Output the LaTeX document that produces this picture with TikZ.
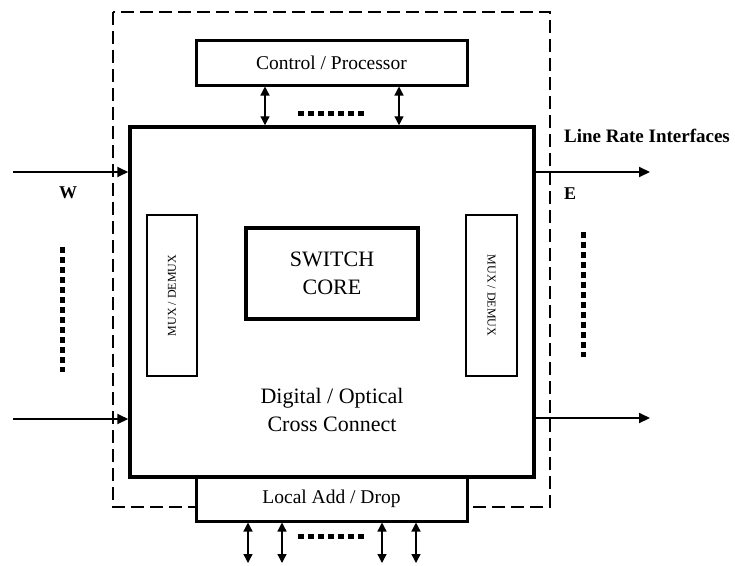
\documentclass[tikz,border=0pt]{standalone}
\usepackage{fontspec}
\setmainfont{Liberation Serif}
\usetikzlibrary{arrows.meta}

\begin{document}
\begin{tikzpicture}[x=1pt,y=-1pt,
  unit/.style={draw,fill=white,inner sep=0pt,align=center},
  line/.style={line width=2pt,-{Triangle[length=11pt,width=10pt]}},
  dblline/.style={line width=1.3pt,{Triangle[length=9pt,width=9pt]}-{Triangle[length=9pt,width=9pt]}},
  dots/.style={line width=5pt,dash pattern=on 6pt off 4pt},
  txt/.style={font=\fontsize{19.5}{24}\selectfont},
  bigtxt/.style={font=\fontsize{22}{28}\selectfont,align=center},
  muxtxt/.style={font=\fontsize{12}{14}\selectfont},
  side/.style={font=\fontsize{18}{22}\selectfont\bfseries}]

  \useasboundingbox (0,0) rectangle (735,565);

  % Outline
  \draw [line width=1.8pt,dash pattern=on 13pt off 6pt] (113,12) rectangle (550,507);

  % Boxes
  \node [unit,line width=3.5pt,minimum width=404pt,minimum height=350pt] (xc) at (332,302) {};
  \node [unit,line width=4pt,minimum width=172pt,minimum height=91pt,bigtxt] (core) at (332,273.5) {SWITCH\\CORE};
  \node [unit,line width=2pt,minimum width=50pt,minimum height=161pt] (muxw) at (172,295.5) {};
  \node [unit,line width=2pt,minimum width=51pt,minimum height=161pt] (muxe) at (491.5,295.5) {};
  \node [muxtxt,rotate=90] (muxwtext) at (muxw) {MUX / DEMUX};
  \node [muxtxt,rotate=-90] (muxetext) at (muxe) {MUX / DEMUX};
  \node [bigtxt] (xctext) at (332,410) {Digital / Optical\\Cross Connect};
  \node [unit,line width=3pt,minimum width=271pt,minimum height=45pt,txt] (ctrl) at (331.5,62.5) {Control / Processor};
  \node [unit,line width=3pt,minimum width=271pt,minimum height=44pt,txt] (adddrop) at (331.5,499) {Local Add / Drop};

  % Line rate ports
  \coordinate (w1) at (13,172);  \coordinate (w2) at (13,419);
  \coordinate (e1) at (650,172); \coordinate (e2) at (650,418);
  \draw [line] (w1) -- (xc.west |- w1);
  \draw [line] (w2) -- (xc.west |- w2);
  \draw [line] (xc.east |- e1) -- (e1);
  \draw [line] (xc.east |- e2) -- (e2);

  % Control links
  \coordinate (c1) at (265,0); \coordinate (c2) at (399,0);
  \draw [dblline] (ctrl.south -| c1) -- (xc.north -| c1);
  \draw [dblline] (ctrl.south -| c2) -- (xc.north -| c2);

  % Add / drop links
  \foreach \x [count=\i] in {248,282,382,416}
    {\coordinate (d\i) at (\x,563);
     \draw [dblline] (adddrop.south -| d\i) -- (d\i);}

  % Dots
  \draw [dots] (298,113) -- (365,113);
  \draw [dots] (298,536) -- (365,536);
  \draw [dots] (62,247) -- (62,372);
  \draw [dots] (583,232) -- (583,357);

  % Labels
  \node [side] (wlabel) at (68,193) {W};
  \node [side] (elabel) at (570,194) {E};
  \node [side,font=\fontsize{19}{22}\selectfont\bfseries,anchor=west,inner sep=0pt] (lri) at (564,136) {Line Rate Interfaces};

\end{tikzpicture}
\end{document}
